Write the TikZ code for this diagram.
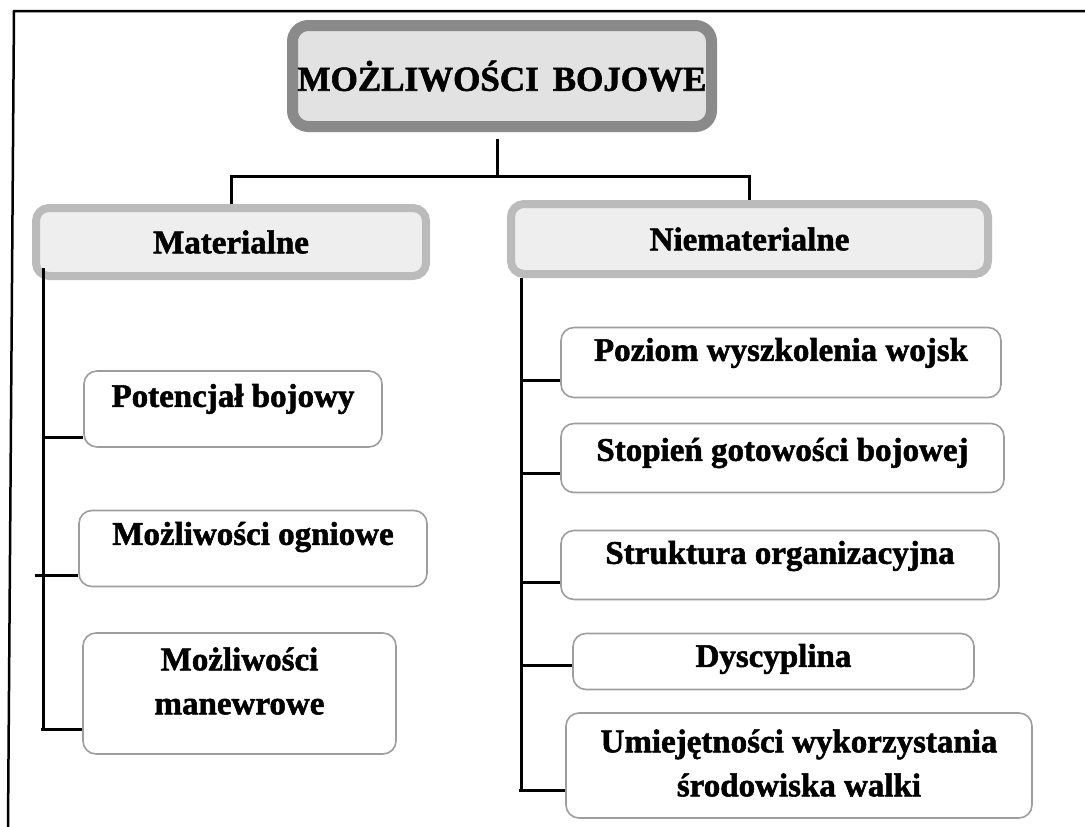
\documentclass[tikz,border=0pt]{standalone}
\usepackage{fontspec}
\setmainfont{Liberation Serif}[BoldFeatures={FakeBold=1.6}]
\definecolor{topedge}{HTML}{8A8A8A}
\definecolor{topfill}{HTML}{E2E2E2}
\definecolor{midedge}{HTML}{BBBBBB}
\definecolor{midfill}{HTML}{EEEEEE}
\definecolor{leafedge}{HTML}{9E9E9E}
\begin{document}
\begin{tikzpicture}[x=1pt,y=-1pt,
  topbox/.style={draw=topedge,fill=topfill,line width=11pt,rounded corners=16pt,
    inner sep=0pt,font=\fontsize{35}{40}\selectfont\bfseries},
  midbox/.style={draw=midedge,fill=midfill,line width=8pt,rounded corners=13pt,
    inner sep=0pt,font=\fontsize{33}{40}\selectfont\bfseries},
  leafbox/.style={draw=leafedge,fill=white,line width=1.6pt,rounded corners=13pt,inner sep=0pt},
  txt/.style={inner sep=0pt,align=center,font=\fontsize{33}{44}\selectfont\bfseries},
  conn/.style={draw=black,line width=3pt},
  frame/.style={draw=black,line width=2.5pt}]
\useasboundingbox (0,0) rectangle (1085,827);
% outer frame
\coordinate (fr1) at (1085,11);
\coordinate (fr2) at (14,11);
\coordinate (fr3) at (8,827);
\draw[frame] (fr1) -- (fr2) -- (fr3);
% top box
\node[topbox,minimum width=419pt,minimum height=101pt] (top) at (502,76) {MOŻLIWOŚCI\hspace{0.4em}BOJOWE};
% middle boxes
\node[midbox,minimum width=390pt,minimum height=68pt] (mat) at (231,242) {Materialne};
\node[midbox,minimum width=477pt,minimum height=70pt] (nie) at (749.5,239) {\raisebox{-4pt}{Niematerialne}};
% left leaf boxes
\node[leafbox,minimum width=298pt,minimum height=76pt] (pot) at (233,409) {};
\node[txt] (potT) at (233,399) {Potencjał bojowy};
\node[leafbox,minimum width=348pt,minimum height=76pt] (ogn) at (253,548.5) {};
\node[txt] (ognT) at (253,537) {Możliwości ogniowe};
\node[leafbox,minimum width=313pt,minimum height=121pt] (man) at (239.5,693.5) {};
\node[txt] (manT) at (239.5,681) {Możliwości\\manewrowe};
% right leaf boxes
\node[leafbox,minimum width=440pt,minimum height=70pt] (poz) at (781,362.5) {};
\node[txt] (pozT) at (781,353) {Poziom wyszkolenia wojsk};
\node[leafbox,minimum width=443pt,minimum height=69pt] (sto) at (782.5,458) {};
\node[txt] (stoT) at (782.5,453) {Stopień gotowości bojowej};
\node[leafbox,minimum width=438pt,minimum height=69pt] (str) at (780,565) {};
\node[txt] (strT) at (780,556) {Struktura organizacyjna};
\node[leafbox,minimum width=401pt,minimum height=56pt] (dys) at (773.5,661.5) {};
\node[txt] (dysT) at (773.5,659) {Dyscyplina};
\node[leafbox,minimum width=466pt,minimum height=105pt] (umi) at (799,765.5) {};
\node[txt] (umiT) at (799,763) {Umiejętności wykorzystania\\środowiska walki};
% top connectors
\coordinate (jt) at (497,139);
\coordinate (jm) at (497,176);
\draw[conn] (jt) -- (jm);
\draw[conn] (mat.north) -- (mat.north |- jm) -- (nie.north |- jm) -- (nie.north);
% left trunk
\coordinate (lt) at (43,268);
\coordinate (lb) at (43,729);
\draw[conn] (lt) -- (lb);
\coordinate (l1) at (43,437);
\coordinate (l2) at (35,575);
\coordinate (l3) at (41,729);
\draw[conn] (l1) -- (l1 -| pot.west);
\draw[conn] (l2) -- (l2 -| ogn.west);
\draw[conn] (l3) -- (l3 -| man.west);
% right trunk
\coordinate (rt) at (521,278);
\coordinate (rb) at (521,790);
\draw[conn] (rt) -- (rb);
\coordinate (r1) at (521,380);
\coordinate (r2) at (521,473);
\coordinate (r3) at (521,582);
\coordinate (r4) at (521,665);
\coordinate (r5) at (519,790);
\draw[conn] (r1) -- (r1 -| poz.west);
\draw[conn] (r2) -- (r2 -| sto.west);
\draw[conn] (r3) -- (r3 -| str.west);
\draw[conn] (r4) -- (r4 -| dys.west);
\draw[conn] (r5) -- (r5 -| umi.west);
\end{tikzpicture}
\end{document}
